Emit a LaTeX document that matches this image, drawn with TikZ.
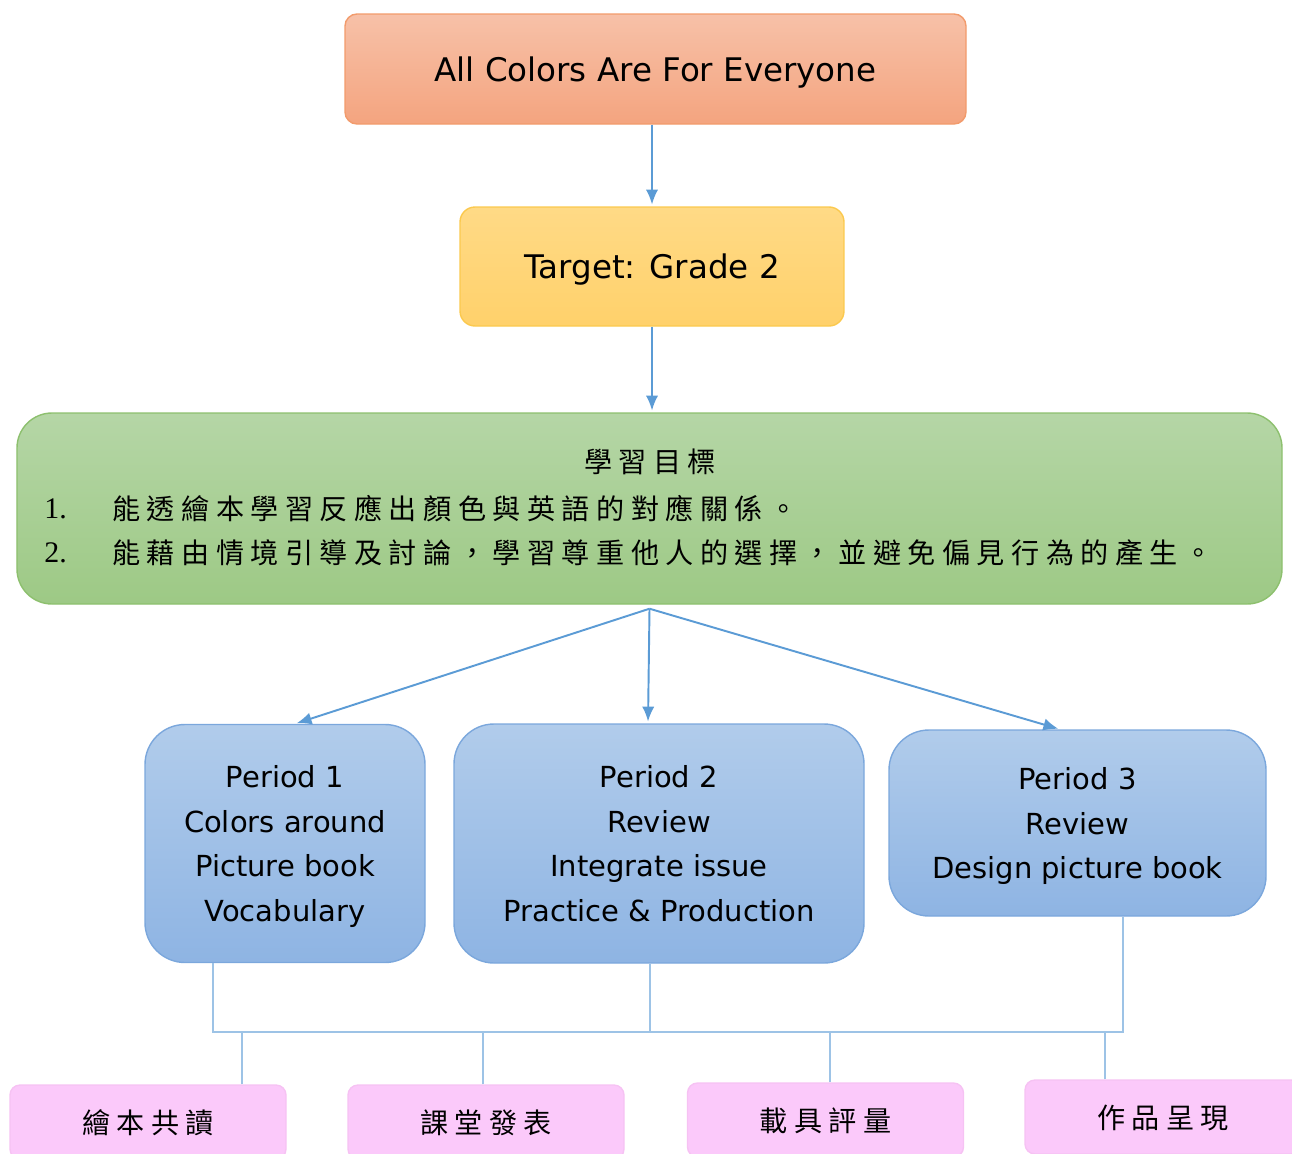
\documentclass[tikz,border=0pt]{standalone}
\usepackage{fontspec}
\setmainfont{DejaVu Sans}
\newfontfamily\cjk[LetterSpace=23]{Noto Sans CJK TC}
\newfontfamily\numfont{Liberation Serif}
\usepackage{tikz}
\usetikzlibrary{arrows.meta,positioning}
\definecolor{orangetop}{HTML}{F7C1A8}
\definecolor{orangebot}{HTML}{F4A47F}
\definecolor{orangeline}{HTML}{F29B6C}
\definecolor{yellowtop}{HTML}{FFDA86}
\definecolor{yellowbot}{HTML}{FFD16B}
\definecolor{yellowline}{HTML}{FBC94E}
\definecolor{greentop}{HTML}{B5D6A6}
\definecolor{greenbot}{HTML}{9DC985}
\definecolor{greenline}{HTML}{8DC06E}
\definecolor{bluetop}{HTML}{B1CCEB}
\definecolor{bluebot}{HTML}{8EB4E3}
\definecolor{blueline}{HTML}{7BA7DC}
\definecolor{pinkfill}{HTML}{FBC9FA}
\definecolor{pinkline}{HTML}{F6C2F3}
\definecolor{arrowblue}{HTML}{5B9BD5}
\definecolor{linkblue}{HTML}{9DC3E6}
\tikzset{>={Latex[length=8.5pt,width=7pt]},shorten >=1pt,auto,
  box/.style={draw,line width=0.8pt,inner sep=0pt,align=center,text depth=0pt,font=\fontsize{16.5}{25.5}\selectfont},
  title node/.style={box,top color=orangetop,bottom color=orangebot,draw=orangeline,rounded corners=0.24cm,minimum width=12.42cm,minimum height=2.2cm,font=\fontsize{18.5}{25}\selectfont},
  target node/.style={box,top color=yellowtop,bottom color=yellowbot,draw=yellowline,rounded corners=0.3cm,minimum width=7.68cm,minimum height=2.38cm,font=\fontsize{18.5}{25}\selectfont},
  goal node/.style={box,top color=greentop,bottom color=greenbot,draw=greenline,rounded corners=0.7cm,minimum width=25.3cm,minimum height=3.82cm},
  period node/.style={box,top color=bluetop,bottom color=bluebot,draw=blueline,rounded corners=0.8cm},
  task node/.style={box,fill=pinkfill,draw=pinkline,rounded corners=0.2cm,minimum width=5.52cm,minimum height=1.48cm,font=\cjk\fontsize{16}{20}\selectfont},
  cjk text/.style={inner sep=0pt,font=\cjk\fontsize{16}{20}\selectfont},
  num text/.style={inner sep=0pt,font=\numfont\fontsize{17}{20}\selectfont},
  edge/.style={color=arrowblue,line width=1.1pt},
  link/.style={draw=linkblue,line width=1.1pt,shorten >=0pt}}
\begin{document}
\begin{tikzpicture}
    \useasboundingbox (0,0) rectangle (25.84,-23.06);
    \clip (0,0) rectangle (25.84,-23.06);

    \node[title node] (title) at (13.11,-1.38) {All Colors Are For Everyone};
    \node[target node, on grid] (target) [below left = 3.95cm and 0.07cm of title] {Target: Grade 2};
    \node[goal node, on grid] (goal) [below left = 4.84cm and 0.05cm of target] {};
    \node[cjk text] (goalhead) at (13.0,-9.24) {學習目標};
    \node[num text, anchor=west] (n1) at (0.88,-10.18) {1.};
    \node[cjk text, anchor=west] (g1) at (2.24,-10.18) {能透繪本學習反應出顏色與英語的對應關係。};
    \node[num text, anchor=west] (n2) at (0.88,-11.06) {2.};
    \node[cjk text, anchor=west] (g2) at (2.24,-11.06) {能藉由情境引導及討論，學習尊重他人的選擇，並避免偏見行為的產生。};

    \node[period node, minimum width=8.2cm, minimum height=4.78cm] (p2) at (13.18,-16.87) {Period 2\\Review\\Integrate issue\\Practice \& Production};
    \node[period node, minimum width=5.6cm, minimum height=4.76cm, on grid] (p1) [left = 7.48cm of p2] {Period 1\\Colors around\\Picture book\\Vocabulary};
    \node[period node, minimum width=7.54cm, minimum height=3.72cm, on grid] (p3) [above right = 0.41cm and 8.37cm of p2] {Period 3\\Review\\Design picture book};

    \node[task node] (t1) at (2.96,-22.44) {繪本共讀};
    \node[task node, on grid] (t2) [right = 6.76cm of t1] {課堂發表};
    \node[task node, on grid] (t3) [above right = 0.04cm and 6.79cm of t2] {載具評量};
    \node[task node, on grid] (t4) [above right = 0.06cm and 6.75cm of t3] {作品呈現};

    \path[edge] (title.south -| target.north) edge [->] (target.north);
    \path[edge] (target.south) edge [->] (target.south |- goal.north);
    \path[edge] ([yshift=-0.08cm]goal.south) edge [->] ([xshift=0.2cm]p1.north);
    \path[edge] ([yshift=-0.08cm]goal.south) edge [->] ([xshift=-0.22cm]p2.north);
    \path[edge] ([yshift=-0.08cm]goal.south) edge [->] ([xshift=-0.35cm]p3.north);

    \coordinate (hub) at (13.0,-20.64);
    \draw[link] ([xshift=-1.44cm]p1.south) |- (hub) -| ([xshift=0.91cm]p3.south);
    \draw[link] ([xshift=-0.18cm]p2.south) -- ([xshift=-0.18cm]p2.south |- hub);
    \draw[link] ([xshift=1.88cm]t1.north) -- ([xshift=1.88cm]t1.north |- hub);
    \draw[link] ([xshift=-0.06cm]t2.north) -- ([xshift=-0.06cm]t2.north |- hub);
    \draw[link] ([xshift=0.09cm]t3.north) -- ([xshift=0.09cm]t3.north |- hub);
    \draw[link] ([xshift=-1.16cm]t4.north) -- ([xshift=-1.16cm]t4.north |- hub);
\end{tikzpicture}
\end{document}
